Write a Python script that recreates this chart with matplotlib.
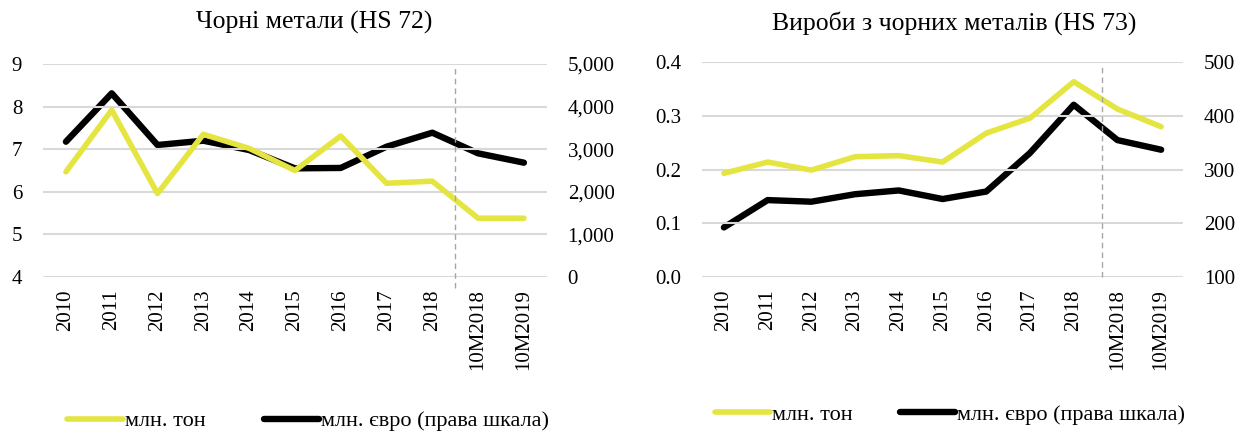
import matplotlib.pyplot as plt
from matplotlib.ticker import FuncFormatter

plt.rcParams['font.family'] = ['Liberation Serif', 'DejaVu Serif']

categories = ['2010', '2011', '2012', '2013', '2014', '2015', '2016', '2017', '2018', '10M2018', '10M2019']

# HS 72
hs72_tons = [6.47, 7.92, 5.96, 7.35, 7.02, 6.50, 7.31, 6.20, 6.25, 5.38, 5.38]
hs72_eur = [3176, 4312, 3099, 3200, 2981, 2551, 2560, 3059, 3388, 2903, 2684]

# HS 73
hs73_tons = [0.193, 0.214, 0.199, 0.224, 0.226, 0.214, 0.268, 0.296, 0.364, 0.313, 0.280]
hs73_eur = [192, 243, 240, 254, 261, 245, 259, 331, 421, 355, 337]

yellow = '#E4E540'
fs = 15

fig = plt.figure(figsize=(12.47, 4.32), dpi=100)


def panel(rect, tons, eur, ylim1, ticks1, ylim2, ticks2, fmt1, fmt2, vline, vmin):
    ax = fig.add_axes(rect)
    x = range(len(categories))
    ax.plot(x, tons, color=yellow, lw=4, solid_joinstyle='round', solid_capstyle='round', label='млн. тон')
    ax.set_ylim(*ylim1)
    ax.set_yticks(ticks1)
    ax.yaxis.set_major_formatter(FuncFormatter(fmt1))
    ax.set_xlim(-0.5, len(categories) - 0.5)
    ax.set_xticks(list(x))
    ax.set_xticklabels(categories, rotation=90)
    ax.grid(axis='y', color='#d9d9d9', lw=1.5)
    ax.set_axisbelow(True)
    ax.axvline(vline, color='#a6a6a6', lw=1, ls=(0, (4, 3)), ymin=vmin, ymax=0.985, clip_on=False)
    for s in ax.spines.values():
        s.set_visible(False)
    ax.tick_params(axis='y', length=0, labelsize=fs, pad=15)
    ax.tick_params(axis='x', length=0, labelsize=fs, pad=9)

    ax2 = ax.twinx()
    ax2.plot(x, eur, color='black', lw=4.6, solid_joinstyle='round', solid_capstyle='round',
             label='млн. євро (права шкала)')
    ax2.set_ylim(*ylim2)
    ax2.set_yticks(ticks2)
    ax2.yaxis.set_major_formatter(FuncFormatter(fmt2))
    for s in ax2.spines.values():
        s.set_visible(False)
    ax2.tick_params(length=0, labelsize=fs, pad=15)
    ax.set_zorder(ax2.get_zorder() + 1)
    ax.patch.set_visible(False)
    return ax, ax2


axL, axL2 = panel([0.0345, 0.3588, 0.404, 0.493], hs72_tons, hs72_eur,
                  (4, 9), [4, 5, 6, 7, 8, 9], (0, 5000), [0, 1000, 2000, 3000, 4000, 5000],
                  lambda v, p: f'{v:.0f}', lambda v, p: f'{v:,.0f}', 8.5, -0.05)

axR, axR2 = panel([0.563, 0.3595, 0.3857, 0.496], hs73_tons, hs73_eur,
                  (0, 0.4), [0, 0.1, 0.2, 0.3, 0.4], (100, 500), [100, 200, 300, 400, 500],
                  lambda v, p: f'{v:.1f}', lambda v, p: f'{v:.0f}', 8.65, 0.0)

fig.text(0.252, 0.947, 'Чорні метали (HS 72)', ha='center', va='center', fontsize=18.5)
fig.text(0.765, 0.947, 'Вироби з чорних металів (HS 73)', ha='center', va='center', fontsize=18.5)

h1, l1 = axL.get_legend_handles_labels()
h2, l2 = axL2.get_legend_handles_labels()
fig.legend(h1 + h2, l1 + l2, loc='center left', bbox_to_anchor=(0.054, 0.025), ncol=2,
           frameon=False, fontsize=16, handlelength=2.5, handletextpad=0.1, columnspacing=2.6,
           borderaxespad=0, borderpad=0)
h1, l1 = axR.get_legend_handles_labels()
h2, l2 = axR2.get_legend_handles_labels()
fig.legend(h1 + h2, l1 + l2, loc='center left', bbox_to_anchor=(0.573, 0.040), ncol=2,
           frameon=False, fontsize=16, handlelength=2.5, handletextpad=0.1, columnspacing=2.1,
           borderaxespad=0, borderpad=0)

fig.savefig('out.png', dpi=100)
